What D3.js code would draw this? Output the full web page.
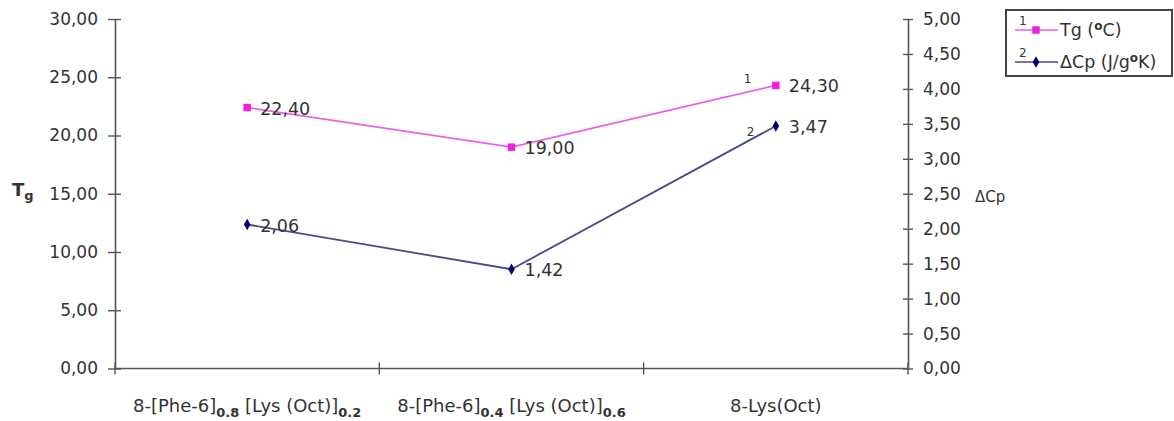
<!DOCTYPE html>
<html>
<head>
<meta charset="utf-8">
<script src="https://cdn.jsdelivr.net/npm/d3@7/dist/d3.min.js"></script>
<style>
  html, body { margin: 0; padding: 0; background: #fff; }
  svg { display: block; font-family: "DejaVu Sans", sans-serif; }
</style>
</head>
<body>
<svg id="chart" width="1174" height="421"></svg>
<script>
// Category names; each label is split into [text, isSubscript] runs
const categories = [
  "8-[Phe-6]0.8 [Lys (Oct)]0.2",
  "8-[Phe-6]0.4 [Lys (Oct)]0.6",
  "8-Lys(Oct)"
];
const categoryParts = [
  [["8-[Phe-6]", false], ["0.8", true], [" [Lys (Oct)]", false], ["0.2", true]],
  [["8-[Phe-6]", false], ["0.4", true], [" [Lys (Oct)]", false], ["0.6", true]],
  [["8-Lys(Oct)", false]]
];
const tgValues = [22.40, 19.00, 24.30];
const cpValues = [2.06, 1.42, 3.47];
const leftTicks = [0, 5, 10, 15, 20, 25, 30];
const rightTicks = [0, 0.5, 1, 1.5, 2, 2.5, 3, 3.5, 4, 4.5, 5];

const svg = d3.select("#chart");
const plotLeft = 115, plotRight = 908, plotTop = 19, plotBottom = 368.5;
const axisColor = "#555";
const textColor = "#333";
const pink = "#ee22dd", pinkLine = "#ee5ee6";
const navy = "#000070", navyLine = "#4a4a88";

const fmt = v => d3.format(".2f")(v).replace(".", ",");

const x = d3.scaleBand().domain(categories).range([plotLeft, plotRight]).padding(0);
const cx = c => x(c) + x.bandwidth() / 2;
const yL = d3.scaleLinear().domain([0, 30]).range([plotBottom, plotTop]);
const yR = d3.scaleLinear().domain([0, 5]).range([plotBottom, plotTop]);

// Left axis (Tg)
const gL = svg.append("g").attr("transform", `translate(${plotLeft},0)`)
  .call(d3.axisLeft(yL).tickValues(leftTicks).tickFormat(fmt).tickSizeInner(7).tickSizeOuter(0).tickPadding(10));
gL.selectAll(".tick line").attr("x2", -7).attr("x1", 6);
// Right axis (ΔCp)
const gR = svg.append("g").attr("transform", `translate(${plotRight},0)`)
  .call(d3.axisRight(yR).tickValues(rightTicks).tickFormat(fmt).tickSizeInner(5).tickSizeOuter(0).tickPadding(10));
gR.selectAll(".tick line").attr("x1", -5);

[gL, gR].forEach(g => {
  g.select(".domain").attr("stroke", axisColor).attr("stroke-width", 1.6);
  g.selectAll(".tick line").attr("stroke", axisColor).attr("stroke-width", 1.4);
  g.selectAll(".tick text").attr("fill", textColor).attr("font-size", 17)
    .attr("font-family", "DejaVu Sans, sans-serif");
});

// Category axis with ticks at band boundaries
svg.append("line").attr("x1", plotLeft).attr("x2", plotRight).attr("y1", plotBottom).attr("y2", plotBottom)
  .attr("stroke", axisColor).attr("stroke-width", 1.6);
const bounds = categories.map(c => x(c)).concat([plotRight]);
svg.selectAll(".xtick").data(bounds).enter().append("line")
  .attr("x1", d => d).attr("x2", d => d).attr("y1", plotBottom - 6).attr("y2", plotBottom + 6)
  .attr("stroke", axisColor).attr("stroke-width", 1.4);

const catText = svg.selectAll(".cat").data(categories).enter().append("text")
  .attr("x", c => cx(c)).attr("y", 412).attr("text-anchor", "middle")
  .attr("fill", textColor).attr("font-size", 18);
catText.each(function(c, i) {
  const t = d3.select(this);
  categoryParts[i].forEach(([s, sub], k) => {
    const ts = t.append("tspan").text(s);
    if (sub) ts.attr("font-size", 13).attr("font-weight", "bold").attr("dy", 5);
    else if (k > 0) ts.attr("dy", -5);
  });
});

// Axis titles
const tg = svg.append("text").attr("x", 12).attr("y", 196).attr("fill", textColor)
  .attr("font-size", 18).attr("font-weight", "bold");
tg.append("tspan").text("T");
tg.append("tspan").text("g").attr("font-size", 13).attr("dy", 4);
svg.append("text").attr("x", 975).attr("y", 202).attr("fill", textColor)
  .attr("font-size", 15).text("ΔCp");

// Series lines
const lineTg = d3.line().x((d, i) => cx(categories[i])).y(d => yL(d));
const lineCp = d3.line().x((d, i) => cx(categories[i])).y(d => yR(d));
svg.append("path").attr("d", lineTg(tgValues)).attr("fill", "none")
  .attr("stroke", pinkLine).attr("stroke-width", 1.8);
svg.append("path").attr("d", lineCp(cpValues)).attr("fill", "none")
  .attr("stroke", navyLine).attr("stroke-width", 1.8);

// Markers
const sq = d3.symbol().type(d3.symbolSquare).size(56);
const dia = d3.symbol().type(d3.symbolDiamond).size(38);
svg.selectAll(".mtg").data(tgValues).enter().append("path")
  .attr("d", sq).attr("fill", pink)
  .attr("transform", (d, i) => `translate(${cx(categories[i])},${yL(d)})`);
svg.selectAll(".mcp").data(cpValues).enter().append("path")
  .attr("d", dia).attr("fill", navy)
  .attr("transform", (d, i) => `translate(${cx(categories[i])},${yR(d)})`);

// Value labels
svg.selectAll(".ltg").data(tgValues).enter().append("text")
  .attr("x", (d, i) => cx(categories[i]) + 13).attr("y", d => yL(d) + 7)
  .attr("fill", textColor).attr("font-size", 17.5).text(fmt);
svg.selectAll(".lcp").data(cpValues).enter().append("text")
  .attr("x", (d, i) => cx(categories[i]) + 13).attr("y", d => yR(d) + 7)
  .attr("fill", textColor).attr("font-size", 17.5).text(fmt);

// Series numbers near the last points
svg.append("text").attr("x", cx(categories[2]) - 32).attr("y", yL(tgValues[2]) - 2)
  .attr("fill", textColor).attr("font-size", 12).text("1");
svg.append("text").attr("x", cx(categories[2]) - 29).attr("y", yR(cpValues[2]) + 10)
  .attr("fill", textColor).attr("font-size", 12).text("2");

// Legend
const lg = svg.append("g");
lg.append("rect").attr("x", 1006).attr("y", 10).attr("width", 166).attr("height", 66)
  .attr("fill", "#fff").attr("stroke", "#444").attr("stroke-width", 2);
const rows = [
  { y: 30, num: "1", color: pinkLine, mark: sq, fill: pink, label: [["Tg (", false], ["o", true], ["C)", false]] },
  { y: 62, num: "2", color: navyLine, mark: dia, fill: navy, label: [["ΔCp (J/g", false], ["o", true], ["K)", false]] }
];
rows.forEach(r => {
  lg.append("line").attr("x1", 1015).attr("x2", 1058).attr("y1", r.y).attr("y2", r.y)
    .attr("stroke", r.color).attr("stroke-width", 1.6);
  lg.append("path").attr("d", r.mark).attr("fill", r.fill)
    .attr("transform", `translate(1036,${r.y})`);
  lg.append("text").attr("x", 1019).attr("y", r.y - 5).attr("fill", textColor)
    .attr("font-size", 12).text(r.num);
  const t = lg.append("text").attr("x", 1060).attr("y", r.y + 6).attr("fill", textColor)
    .attr("font-size", 17.5);
  r.label.forEach(([s, sup], k) => {
    const ts = t.append("tspan").text(s);
    if (sup) ts.attr("font-size", 12).attr("font-weight", "bold").attr("dy", -6);
    else if (k > 0) ts.attr("dy", 6);
  });
});
</script>
</body>
</html>
